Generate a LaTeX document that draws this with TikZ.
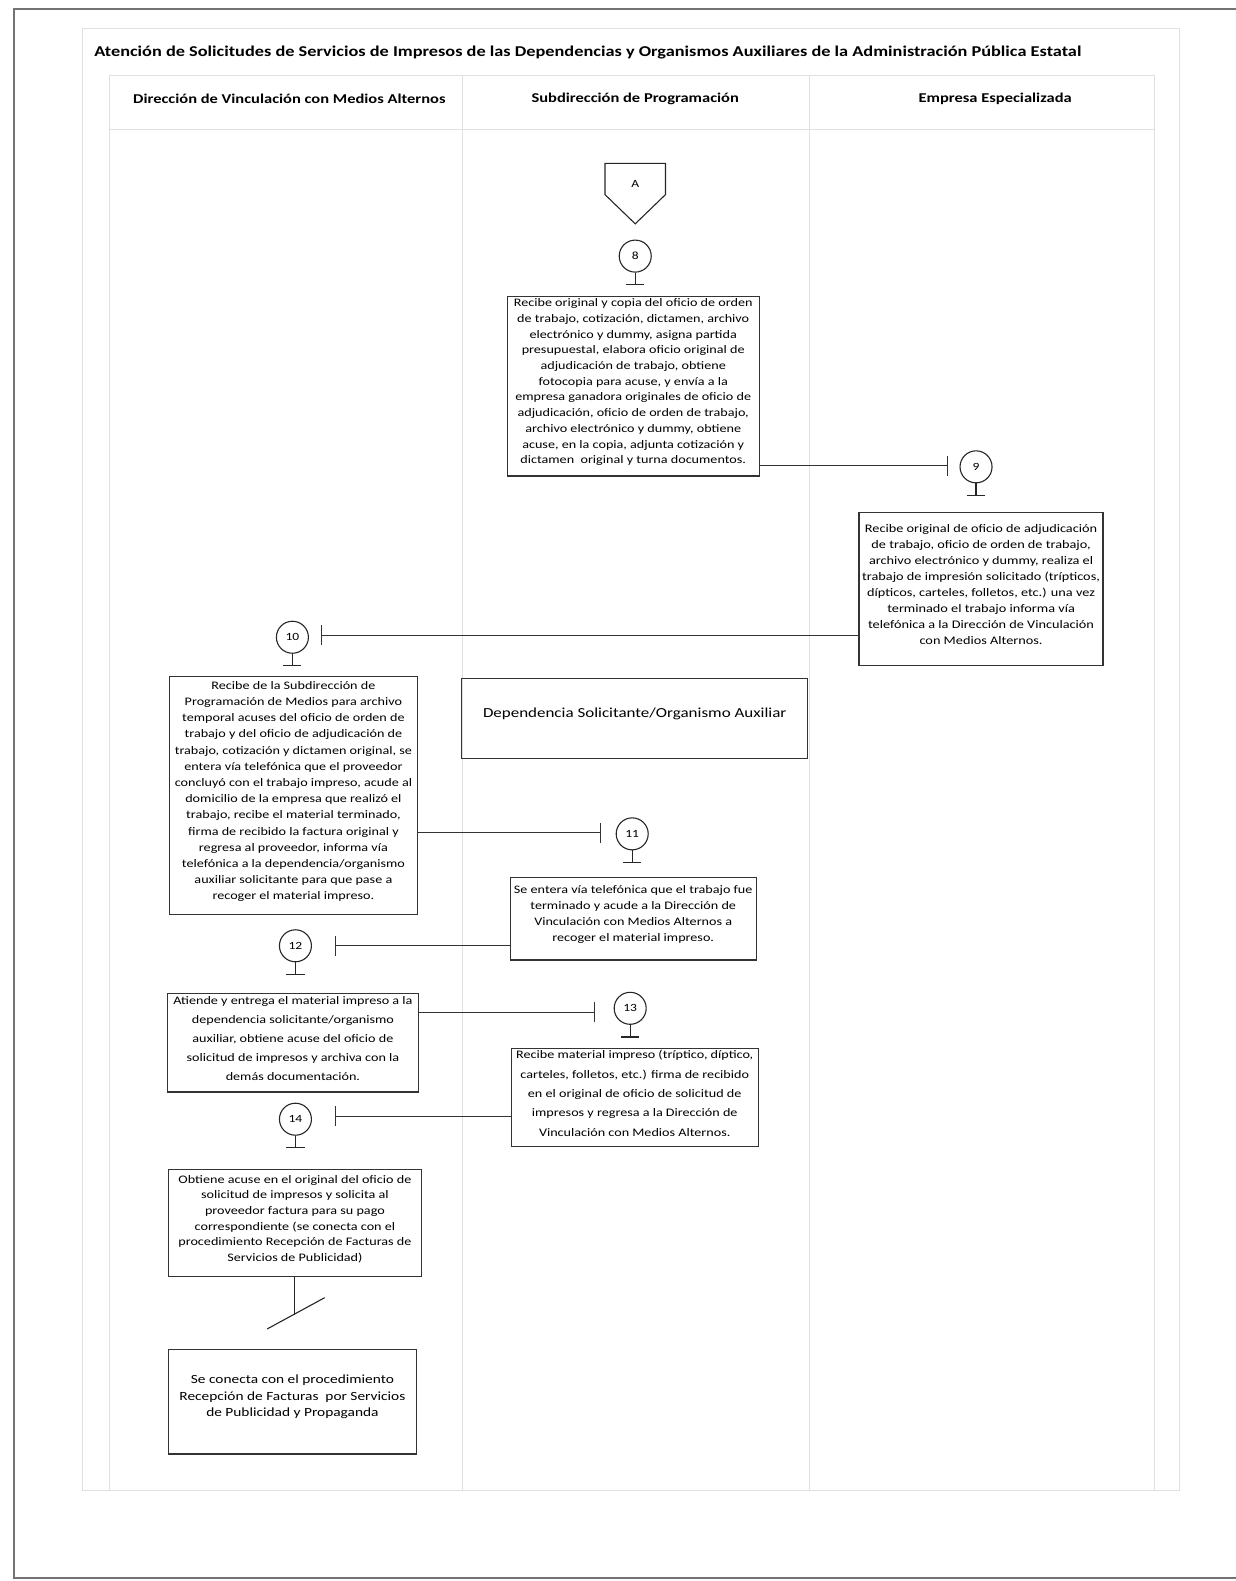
\documentclass[tikz,border=0pt]{standalone}
\usepackage{fontspec}
\setmainfont{Carlito}
\newfontfamily\bxfont[FakeStretch=1.23]{Carlito}
\newfontfamily\ttlfont[FakeStretch=1.22]{Carlito}
\usetikzlibrary{arrows.meta,fit,calc}
\begin{document}
\begin{tikzpicture}[x=1.008pt,y=-1.008pt,
  box/.style={draw=black!80, line width=1.2pt, inner sep=0pt, align=center},
  num/.style={draw=black!85, circle, line width=1.1pt, minimum size=32pt, inner sep=0pt, font=\bxfont\fontsize{11}{12}\selectfont},
  sym/.style={draw=black!85, line width=1.1pt},
  flow/.style={draw=black!80, line width=1.2pt, -{Bar[width=20pt,line width=1.2pt]}},
  lane/.style={draw=black!12, line width=0.6pt},
  hdr/.style={font=\ttlfont\bfseries\fontsize{13.5}{15}\selectfont}]
\useasboundingbox (0,0) rectangle (1225,1568);
% outer frame
\draw[draw=black!55, line width=2.6pt] (1240,9) -- (14,9) -- (14,1565) -- (1240,1565);
% faint lane structure
\draw[lane] (82,28) rectangle (1170,1478);
\draw[lane] (108,75) -- (1145,75);
\draw[lane] (108,128) -- (1145,128);
\foreach \x in {108,458,803,1145} \draw[lane] (\x,75) -- (\x,1478);
% title and headers
\node[font=\ttlfont\bfseries\fontsize{15}{17}\selectfont] (title) at (583,52) {Atención de Solicitudes de Servicios de Impresos de las Dependencias y Organismos Auxiliares de la Administración Pública Estatal};
\node[hdr] (h1) at (287,98) {Dirección de Vinculación con Medios Alternos};
\node[hdr] (h2) at (630,98) {Subdirección de Programación};
\node[hdr] (h3) at (987,98) {Empresa Especializada};
% off-page connector A
\draw[sym] (600,162) -- (660,162) -- (660,193) -- (630,222) -- (600,193) -- cycle;
\node[font=\bxfont\fontsize{11}{12}\selectfont] (A) at (630,182) {A};
% circles
\node[num] (c8) at (630,254) {8};
\node[num] (c9) at (968,463) {9};
\node[num] (c10) at (290,632) {10};
\node[num] (c11) at (627,827) {11};
\node[num] (c12) at (293,938) {12};
\node[num] (c13) at (625,1000) {13};
\node[num] (c14) at (293,1110) {14};
\foreach \c in {c8,c9,c10,c11,c12,c13,c14}
  \draw[sym] (\c.south) -- ++(0,12) ++(-9,0) -- ++(18,0);
% boxes
\node[box, fit={(503,294) (753,472)}, font=\bxfont\fontsize{11.5}{15.7}\selectfont] (b8) {Recibe original y copia del oficio de orden\\de trabajo, cotización, dictamen, archivo\\electrónico y dummy, asigna partida\\presupuestal, elabora oficio original de\\adjudicación de trabajo, obtiene\\fotocopia para acuse, y envía a la\\empresa ganadora originales de oficio de\\adjudicación, oficio de orden de trabajo,\\archivo electrónico y dummy, obtiene\\acuse, en la copia, adjunta cotización y\\dictamen\ \ original y turna documentos.};
\node[box, fit={(852,508) (1094,660)}, font=\bxfont\fontsize{11.6}{16}\selectfont] (b9) {Recibe original de oficio de adjudicación\\de trabajo, oficio de orden de trabajo,\\archivo electrónico y dummy, realiza el\\trabajo de impresión solicitado (trípticos,\\dípticos, carteles, folletos, etc.) una vez\\terminado el trabajo informa vía\\telefónica a la Dirección de Vinculación\\con Medios Alternos.};
\node[box, fit={(168,671) (414,907)}, font=\bxfont\fontsize{11.5}{16.2}\selectfont] (b10) {Recibe de la Subdirección de\\Programación de Medios para archivo\\temporal acuses del oficio de orden de\\trabajo y del oficio de adjudicación de\\trabajo, cotización y dictamen original, se\\entera vía telefónica que el proveedor\\concluyó con el trabajo impreso, acude al\\domicilio de la empresa que realizó el\\trabajo, recibe el material terminado,\\firma de recibido la factura original y\\regresa al proveedor, informa vía\\telefónica a la dependencia/organismo\\auxiliar solicitante para que pase a\\recoger el material impreso.};
\node[box, fit={(458,673) (801,752)}, font=\bxfont\fontsize{13.8}{16}\selectfont] (dep) {Dependencia Solicitante/Organismo Auxiliar};
\node[box, fit={(506,870) (750,952)}, font=\bxfont\fontsize{11.5}{16}\selectfont] (b11) {Se entera vía telefónica que el trabajo fue\\terminado y acude a la Dirección de\\Vinculación con Medios Alternos a\\recoger el material impreso.};
\node[box, fit={(166,985) (415,1083)}, font=\bxfont\fontsize{11.5}{19}\selectfont] (b12) {Atiende y entrega el material impreso a la\\dependencia solicitante/organismo\\auxiliar, obtiene acuse del oficio de\\solicitud de impresos y archiva con la\\demás documentación.};
\node[box, fit={(507,1040) (752,1137)}, font=\bxfont\fontsize{11.5}{19.4}\selectfont] (b13) {Recibe material impreso (tríptico, díptico,\\carteles, folletos, etc.) firma de recibido\\en el original de oficio de solicitud de\\impresos y regresa a la Dirección de\\Vinculación con Medios Alternos.};
\node[box, fit={(167,1160) (418,1266)}, font=\bxfont\fontsize{11.5}{15.6}\selectfont] (b14) {Obtiene acuse en el original del oficio de\\solicitud de impresos y solicita al\\proveedor factura para su pago\\correspondiente (se conecta con el\\procedimiento Recepción de Facturas de\\Servicios de Publicidad)};
\node[box, fit={(167,1338) (413,1442)}, font=\bxfont\fontsize{12.5}{16.5}\selectfont] (fin) {Se conecta con el procedimiento\\Recepción de Facturas\ \ por Servicios\\de Publicidad y Propaganda};
% connectors
\coordinate (t9) at (940,462);
\coordinate (t10) at (318,630);
\coordinate (t11) at (596,826);
\coordinate (t12) at (332,938);
\coordinate (t13) at (590,1004);
\coordinate (t14) at (332,1107);
\draw[flow] (b8.east |- t9) -- (t9);
\draw[flow] (b9.west |- t10) -- (t10);
\draw[flow] (b10.east |- t11) -- (t11);
\draw[flow] (b11.west |- t12) -- (t12);
\draw[flow] (b12.east |- t13) -- (t13);
\draw[flow] (b13.west |- t14) -- (t14);
% end: line with cut
\coordinate (cutA) at (265,1318);
\coordinate (cutB) at (322,1287);
\draw[sym] (b14.south) -- ++(0,38) coordinate (endl);
\draw[sym] (cutA) -- (cutB);
\end{tikzpicture}
\end{document}
